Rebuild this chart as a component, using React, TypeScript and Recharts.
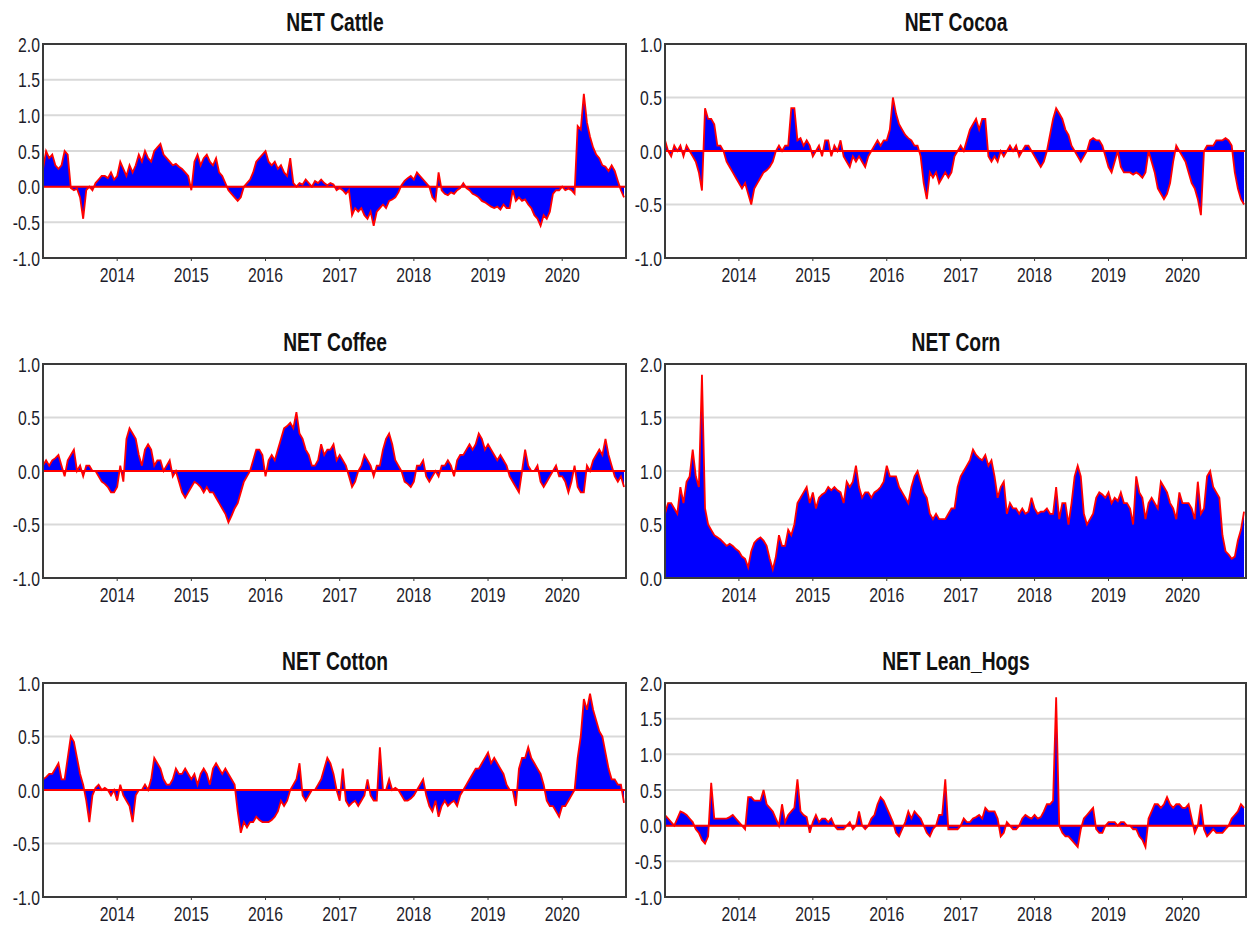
import React from 'react';
import { ComposedChart, Area, XAxis, YAxis, CartesianGrid, ReferenceLine } from 'recharts';

// Semi-monthly observations starting January 2013
const START_YEAR = 2013;
const STEP = 1 / 24;
const X_END = 2020.86;
const YEAR_TICKS = [2014, 2015, 2016, 2017, 2018, 2019, 2020];

const TICKS_M1_2 = [-1, -0.5, 0, 0.5, 1, 1.5, 2];
const TICKS_M1_1 = [-1, -0.5, 0, 0.5, 1];
const TICKS_0_2 = [0, 0.5, 1, 1.5, 2];

const cattle = [
  0.25, 0.5, 0.4, 0.45, 0.3, 0.25, 0.3, 0.5, 0.45, -0.02, -0.05, -0.03, -0.15, -0.45, -0.05, 0.0, -0.05, 0.05, 0.1, 0.15, 0.15, 0.12, 0.2, 0.1,
  0.15, 0.35, 0.25, 0.15, 0.3, 0.2, 0.3, 0.45, 0.35, 0.5, 0.4, 0.35, 0.5, 0.55, 0.6, 0.45, 0.4, 0.35, 0.3, 0.32, 0.28, 0.25, 0.2, 0.15,
  -0.05, 0.35, 0.45, 0.3, 0.4, 0.45, 0.35, 0.3, 0.4, 0.2, 0.15, 0.05, -0.05, -0.1, -0.15, -0.2, -0.15, 0.0, 0.05, 0.1, 0.2, 0.35, 0.4, 0.45,
  0.5, 0.35, 0.3, 0.35, 0.25, 0.3, 0.2, 0.15, 0.4, 0.05, 0.0, 0.05, 0.03, 0.1, 0.05, 0.0, 0.08, 0.05, 0.1, 0.05, 0.02, 0.05, 0.03, -0.05,
  -0.02, -0.05, -0.1, -0.05, -0.4, -0.3, -0.35, -0.3, -0.4, -0.45, -0.35, -0.55, -0.35, -0.3, -0.25, -0.3, -0.2, -0.18, -0.15, -0.08, 0.02, 0.08, 0.12, 0.15,
  0.1, 0.2, 0.15, 0.1, 0.05, 0.0, -0.15, -0.2, 0.2, -0.05, -0.1, -0.12, -0.08, -0.1, -0.05, -0.02, 0.05, -0.02, -0.05, -0.1, -0.12, -0.15, -0.2, -0.22,
  -0.25, -0.28, -0.3, -0.28, -0.32, -0.25, -0.3, -0.3, -0.05, -0.2, -0.15, -0.2, -0.18, -0.25, -0.3, -0.4, -0.45, -0.55, -0.4, -0.45, -0.35, -0.1, -0.05, -0.05,
  0.0, -0.05, -0.03, -0.05, -0.1, 0.85, 0.8, 1.3, 0.9, 0.7, 0.55, 0.45, 0.4, 0.3, 0.28, 0.22, 0.3, 0.22, 0.08, -0.05, -0.15,
];

const cocoa = [
  0.1, 0.0, -0.05, 0.05, 0.0, 0.05, -0.05, 0.05, 0.0, -0.05, -0.1, -0.2, -0.37, 0.4, 0.3, 0.3, 0.25, 0.05, 0.05, 0.0, -0.1, -0.15, -0.2, -0.25,
  -0.3, -0.35, -0.3, -0.4, -0.5, -0.35, -0.3, -0.25, -0.2, -0.18, -0.15, -0.1, 0.0, 0.05, 0.0, 0.05, 0.05, 0.4, 0.4, 0.1, 0.12, 0.05, 0.1, 0.05,
  -0.05, 0.0, 0.05, -0.05, 0.1, 0.1, -0.05, 0.05, 0.0, 0.1, -0.05, -0.1, -0.15, -0.05, -0.1, -0.05, -0.1, -0.15, -0.05, 0.0, 0.05, 0.1, 0.05, 0.1,
  0.1, 0.2, 0.5, 0.35, 0.25, 0.2, 0.15, 0.12, 0.1, 0.05, 0.05, -0.05, -0.3, -0.45, -0.2, -0.25, -0.2, -0.3, -0.25, -0.2, -0.25, -0.2, -0.05, 0.0,
  0.05, 0.0, 0.1, 0.2, 0.25, 0.3, 0.2, 0.3, 0.3, -0.05, -0.1, -0.05, -0.1, 0.0, -0.05, 0.0, 0.05, 0.0, 0.05, -0.05, 0.0, 0.05, 0.05, 0.0,
  -0.05, -0.1, -0.15, -0.1, 0.0, 0.15, 0.3, 0.4, 0.35, 0.3, 0.2, 0.15, 0.05, 0.0, -0.05, -0.1, -0.05, 0.0, 0.1, 0.12, 0.1, 0.1, 0.05, -0.05,
  -0.15, -0.2, -0.1, 0.0, -0.15, -0.2, -0.2, -0.2, -0.22, -0.2, -0.22, -0.25, -0.2, 0.0, -0.1, -0.2, -0.35, -0.4, -0.45, -0.4, -0.3, -0.1, 0.05, 0.0,
  -0.05, -0.1, -0.2, -0.3, -0.35, -0.45, -0.6, 0.0, 0.05, 0.05, 0.05, 0.1, 0.1, 0.1, 0.12, 0.1, 0.05, -0.2, -0.35, -0.45, -0.5,
];

const coffee = [
  0.05, 0.1, 0.05, 0.1, 0.12, 0.15, 0.05, -0.05, 0.1, 0.15, 0.2, 0.0, 0.05, -0.05, 0.05, 0.05, 0.0, 0.0, -0.05, -0.1, -0.12, -0.15, -0.2, -0.2,
  -0.15, 0.05, -0.1, 0.3, 0.4, 0.35, 0.3, 0.15, 0.05, 0.2, 0.25, 0.2, 0.05, 0.1, 0.1, 0.0, 0.05, 0.1, -0.05, 0.0, -0.1, -0.2, -0.25, -0.2,
  -0.15, -0.1, -0.12, -0.15, -0.2, -0.15, -0.2, -0.2, -0.25, -0.3, -0.35, -0.4, -0.48, -0.42, -0.35, -0.3, -0.2, -0.1, -0.05, 0.0, 0.1, 0.2, 0.2, 0.15,
  -0.05, 0.1, 0.15, 0.1, 0.2, 0.3, 0.4, 0.42, 0.45, 0.4, 0.55, 0.35, 0.3, 0.2, 0.15, 0.05, 0.05, 0.1, 0.25, 0.15, 0.2, 0.2, 0.25, 0.1,
  0.15, 0.1, 0.05, -0.05, -0.15, -0.1, 0.0, 0.05, 0.15, 0.1, 0.05, -0.05, 0.05, 0.05, 0.2, 0.3, 0.35, 0.25, 0.1, 0.05, 0.0, -0.1, -0.12, -0.15,
  -0.1, 0.05, 0.05, 0.1, -0.05, -0.1, -0.05, 0.0, -0.05, 0.05, 0.05, 0.1, 0.05, -0.05, 0.1, 0.15, 0.15, 0.2, 0.25, 0.2, 0.25, 0.35, 0.3, 0.2,
  0.25, 0.2, 0.15, 0.1, 0.15, 0.1, 0.05, -0.05, -0.1, -0.15, -0.2, 0.0, 0.2, 0.05, 0.0, 0.0, 0.05, -0.1, -0.15, -0.1, -0.05, 0.0, 0.05, -0.05,
  -0.05, -0.1, -0.2, -0.1, 0.05, -0.15, -0.2, -0.2, 0.05, 0.0, 0.1, 0.15, 0.2, 0.15, 0.3, 0.15, 0.05, -0.05, -0.1, -0.05, -0.15,
];

const corn = [
  0.6, 0.7, 0.7, 0.65, 0.6, 0.85, 0.7, 0.9, 0.95, 1.2, 0.95, 0.85, 1.9, 0.65, 0.5, 0.45, 0.4, 0.38, 0.36, 0.33, 0.3, 0.32, 0.3, 0.27,
  0.25, 0.2, 0.18, 0.1, 0.25, 0.33, 0.36, 0.38, 0.35, 0.3, 0.18, 0.08, 0.2, 0.4, 0.3, 0.3, 0.45, 0.4, 0.5, 0.7, 0.75, 0.8, 0.85, 0.7,
  0.8, 0.65, 0.75, 0.78, 0.8, 0.85, 0.82, 0.85, 0.82, 0.8, 0.7, 0.9, 0.85, 0.9, 1.05, 0.85, 0.75, 0.8, 0.8, 0.75, 0.8, 0.82, 0.85, 0.9,
  1.05, 0.95, 0.95, 0.95, 0.85, 0.8, 0.75, 0.7, 0.85, 0.95, 1.0, 0.9, 0.8, 0.75, 0.6, 0.55, 0.6, 0.55, 0.55, 0.55, 0.6, 0.65, 0.65, 0.85,
  0.95, 1.0, 1.05, 1.1, 1.2, 1.15, 1.12, 1.1, 1.15, 1.05, 1.1, 0.95, 0.75, 0.85, 0.9, 0.6, 0.7, 0.65, 0.65, 0.6, 0.65, 0.6, 0.62, 0.75,
  0.65, 0.6, 0.62, 0.62, 0.65, 0.6, 0.6, 0.85, 0.55, 0.7, 0.7, 0.5, 0.7, 0.95, 1.05, 0.95, 0.6, 0.5, 0.55, 0.6, 0.75, 0.8, 0.78, 0.75,
  0.8, 0.7, 0.75, 0.72, 0.8, 0.7, 0.7, 0.65, 0.5, 0.95, 0.8, 0.75, 0.55, 0.7, 0.75, 0.7, 0.65, 0.9, 0.85, 0.8, 0.7, 0.65, 0.55, 0.8,
  0.7, 0.7, 0.7, 0.65, 0.55, 0.9, 0.6, 0.65, 0.95, 1.0, 0.85, 0.8, 0.75, 0.4, 0.25, 0.22, 0.18, 0.2, 0.35, 0.45, 0.62,
];

const cotton = [
  0.1, 0.12, 0.15, 0.15, 0.2, 0.25, 0.1, 0.1, 0.3, 0.5, 0.45, 0.3, 0.15, 0.05, -0.1, -0.3, -0.05, 0.02, 0.05, 0.0, 0.02, 0.0, -0.05, 0.0,
  -0.1, 0.05, -0.05, -0.1, -0.15, -0.3, -0.05, 0.0, 0.0, 0.05, 0.0, 0.1, 0.3, 0.25, 0.2, 0.1, 0.05, 0.05, 0.1, 0.2, 0.15, 0.15, 0.2, 0.15,
  0.1, 0.15, 0.05, 0.15, 0.2, 0.15, 0.05, 0.2, 0.25, 0.2, 0.15, 0.2, 0.15, 0.1, 0.05, -0.2, -0.4, -0.3, -0.35, -0.3, -0.3, -0.25, -0.28, -0.3,
  -0.3, -0.3, -0.28, -0.25, -0.2, -0.1, -0.15, -0.1, 0.0, 0.05, 0.1, 0.25, -0.05, -0.1, -0.05, 0.0, 0.0, 0.05, 0.1, 0.2, 0.3, 0.25, 0.15, 0.0,
  -0.1, 0.2, -0.1, -0.15, -0.12, -0.1, -0.15, -0.1, -0.05, 0.1, -0.05, -0.1, -0.1, 0.4, 0.0, 0.0, 0.1, 0.0, 0.02, 0.0, -0.05, -0.1, -0.1, -0.08,
  -0.05, 0.0, 0.05, 0.1, -0.05, -0.15, -0.2, -0.1, -0.25, -0.15, -0.1, -0.15, -0.12, -0.1, -0.15, -0.05, 0.0, 0.05, 0.1, 0.15, 0.2, 0.2, 0.25, 0.3,
  0.35, 0.25, 0.3, 0.25, 0.2, 0.15, 0.05, 0.0, 0.0, -0.15, 0.2, 0.3, 0.3, 0.4, 0.3, 0.25, 0.2, 0.15, 0.05, -0.1, -0.15, -0.15, -0.2, -0.25,
  -0.15, -0.15, -0.1, -0.05, 0.0, 0.3, 0.5, 0.85, 0.75, 0.9, 0.75, 0.65, 0.55, 0.5, 0.35, 0.2, 0.1, 0.1, 0.05, 0.05, -0.12,
];

const leanHogs = [
  0.15, 0.1, 0.05, 0.0, 0.1, 0.2, 0.18, 0.15, 0.1, 0.05, -0.05, -0.1, -0.2, -0.25, -0.15, 0.6, 0.1, 0.1, 0.1, 0.1, 0.1, 0.12, 0.15, 0.1,
  0.05, 0.0, -0.05, 0.4, 0.4, 0.35, 0.35, 0.35, 0.5, 0.3, 0.25, 0.2, 0.1, 0.0, 0.3, 0.05, 0.15, 0.2, 0.25, 0.65, 0.2, 0.15, 0.12, -0.1,
  0.05, 0.15, 0.05, 0.1, 0.1, 0.05, 0.1, 0.0, -0.05, -0.05, -0.05, 0.0, 0.05, -0.05, 0.0, 0.2, 0.0, -0.05, 0.0, 0.1, 0.15, 0.3, 0.4, 0.35,
  0.25, 0.15, 0.05, -0.1, -0.15, -0.05, 0.05, 0.2, 0.1, 0.2, 0.15, 0.1, 0.0, -0.1, -0.15, -0.05, 0.0, 0.15, 0.15, 0.65, -0.05, -0.05, -0.05, -0.05,
  0.0, 0.1, 0.05, 0.05, 0.1, 0.12, 0.15, 0.1, 0.25, 0.2, 0.2, 0.2, 0.1, -0.15, -0.1, 0.05, 0.0, -0.05, -0.05, 0.0, 0.1, 0.15, 0.12, 0.1,
  0.15, 0.1, 0.12, 0.2, 0.3, 0.3, 0.35, 1.8, 0.0, -0.1, -0.15, -0.15, -0.2, -0.25, -0.3, -0.05, 0.1, 0.15, 0.2, 0.25, -0.05, -0.1, -0.1, 0.0,
  0.05, 0.05, 0.05, 0.0, 0.05, 0.05, 0.0, 0.0, -0.05, -0.05, -0.15, -0.2, -0.3, 0.1, 0.2, 0.3, 0.3, 0.25, 0.3, 0.4, 0.3, 0.25, 0.3, 0.3,
  0.25, 0.25, 0.3, 0.1, -0.1, 0.0, 0.3, -0.05, -0.15, -0.1, -0.05, -0.1, -0.1, -0.1, -0.05, 0.0, 0.1, 0.15, 0.2, 0.3, 0.25,
];

const FONT = "'Liberation Sans', Arial, sans-serif";
const Y_AXIS_W = 43;
const PLOT_H = 214;
const X_AXIS_H = 30;
const TOP_PAD = 12;
const NARROW = 0.75;
const TEXT_FILL = '#1c1c2a';

const panels = [
  { title: 'NET Cattle', values: cattle, domain: [-1, 2], ticks: TICKS_M1_2, left: 0, top: 44, chartW: 626 },
  { title: 'NET Cocoa', values: cocoa, domain: [-1, 1], ticks: TICKS_M1_1, left: 622, top: 44, chartW: 624 },
  { title: 'NET Coffee', values: coffee, domain: [-1, 1], ticks: TICKS_M1_1, left: 0, top: 364, chartW: 626 },
  { title: 'NET Corn', values: corn, domain: [0, 2], ticks: TICKS_0_2, left: 622, top: 364, chartW: 624 },
  { title: 'NET Cotton', values: cotton, domain: [-1, 1], ticks: TICKS_M1_1, left: 0, top: 683, chartW: 626 },
  { title: 'NET Lean_Hogs', values: leanHogs, domain: [-1, 2], ticks: TICKS_M1_2, left: 622, top: 683, chartW: 624 },
];

function YTick(props: any) {
  const { x, y, payload } = props;
  return (
    <text
      transform={`translate(${x},${y}) scale(${NARROW},1)`}
      x={0}
      y={0}
      dy="0.36em"
      textAnchor="end"
      fontFamily={FONT}
      fontSize={21}
      fill={TEXT_FILL}
    >
      {Number(payload.value).toFixed(1)}
    </text>
  );
}

function XTick(props: any) {
  const { x, y, payload } = props;
  return (
    <text
      transform={`translate(${x},${y}) scale(${NARROW},1)`}
      x={0}
      y={0}
      dy="0.72em"
      textAnchor="middle"
      fontFamily={FONT}
      fontSize={21}
      fill={TEXT_FILL}
    >
      {String(payload.value)}
    </text>
  );
}

function Panel({ p }: { p: any }) {
  const data = p.values.map((v: number, i: number) => ({ x: START_YEAR + i * STEP, v }));
  const plotW = p.chartW - Y_AXIS_W;
  return (
    <>
      <div
        style={{
          position: 'absolute',
          left: p.left + Y_AXIS_W + plotW / 2,
          top: p.top - 34,
          whiteSpace: 'nowrap',
          transform: 'translateX(-50%) scaleX(0.77)',
          fontFamily: FONT,
          fontWeight: 'bold',
          fontSize: 25,
          lineHeight: '25px',
          color: '#111',
        }}
      >
        {p.title}
      </div>
      <div style={{ position: 'absolute', left: p.left, top: p.top - TOP_PAD }}>
        <ComposedChart
          width={p.chartW}
          height={PLOT_H + X_AXIS_H + TOP_PAD}
          data={data}
          margin={{ top: TOP_PAD, right: 0, bottom: 0, left: 0 }}
        >
          <CartesianGrid vertical={false} stroke="#d9d9d9" strokeWidth={2} />
          <XAxis
            type="number"
            dataKey="x"
            domain={[START_YEAR, X_END]}
            ticks={YEAR_TICKS}
            allowDataOverflow
            interval={0}
            height={X_AXIS_H}
            axisLine={false}
            tickSize={3}
            tickMargin={6}
            tickLine={{ stroke: '#333' }}
            tick={<XTick />}
          />
          <YAxis
            type="number"
            domain={p.domain}
            ticks={p.ticks}
            allowDataOverflow
            interval={0}
            width={Y_AXIS_W}
            axisLine={false}
            tickLine={false}
            tickSize={0}
            tickMargin={3}
            tick={<YTick />}
          />
          <Area
            dataKey="v"
            type="linear"
            stroke="#ff0000"
            strokeWidth={1.8}
            fill="#0000ff"
            fillOpacity={1}
            dot={false}
            activeDot={false}
            isAnimationActive={false}
          />
          <ReferenceLine y={0} stroke="#ff0000" strokeWidth={2} />
        </ComposedChart>
      </div>
      <div
        style={{
          position: 'absolute',
          left: p.left + Y_AXIS_W - 1,
          top: p.top - 1,
          width: plotW + 2,
          height: PLOT_H + 2,
          border: '2px solid #3a3a3a',
          boxSizing: 'border-box',
          pointerEvents: 'none',
        }}
      />
    </>
  );
}

export default function App() {
  return (
    <div style={{ position: 'absolute', left: 0, top: 0, width: 1251, height: 928, background: '#fff', overflow: 'hidden' }}>
      {panels.map((p) => (
        <Panel key={p.title} p={p} />
      ))}
    </div>
  );
}
